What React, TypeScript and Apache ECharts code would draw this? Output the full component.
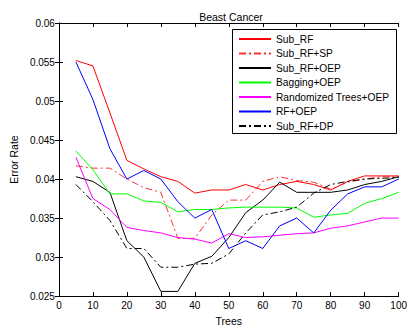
import React, { useEffect, useRef } from "react";
import * as echarts from "echarts";

const trees = [5, 10, 15, 20, 25, 30, 35, 40, 45, 50, 55, 60, 65, 70, 75, 80, 85, 90, 95, 100];
const subRF = [0.0552, 0.0545, 0.0485, 0.0424, 0.0413, 0.0403, 0.0397, 0.0382, 0.0386, 0.0386, 0.0393, 0.0386, 0.0393, 0.0397, 0.0393, 0.0386, 0.0397, 0.0404, 0.0404, 0.0404];
const subRFSP = [0.0417, 0.0414, 0.0414, 0.04, 0.0389, 0.0383, 0.0324, 0.0324, 0.0354, 0.0373, 0.0373, 0.0397, 0.0403, 0.0398, 0.0396, 0.0387, 0.0396, 0.04, 0.0403, 0.0403];
const subRFOEP = [0.0403, 0.0397, 0.0383, 0.0321, 0.03, 0.0256, 0.0256, 0.0292, 0.0301, 0.0325, 0.0357, 0.0373, 0.0396, 0.0383, 0.0383, 0.0383, 0.0386, 0.0393, 0.0397, 0.0403];
const baggingOEP = [0.0436, 0.0412, 0.0381, 0.0381, 0.0372, 0.037, 0.0358, 0.0361, 0.0361, 0.0363, 0.0364, 0.0364, 0.0364, 0.0363, 0.0351, 0.0354, 0.0356, 0.0369, 0.0375, 0.0383];
const randTreesOEP = [0.0428, 0.0375, 0.0361, 0.0338, 0.0334, 0.0331, 0.0325, 0.0323, 0.0318, 0.033, 0.0325, 0.0326, 0.0328, 0.033, 0.0331, 0.0337, 0.034, 0.0345, 0.035, 0.035];
const rfOEP = [0.055, 0.0502, 0.0439, 0.04, 0.0411, 0.04, 0.0371, 0.035, 0.0361, 0.0311, 0.0321, 0.0311, 0.034, 0.035, 0.0331, 0.036, 0.0381, 0.039, 0.039, 0.04];
const subRFDP = [0.0393, 0.0371, 0.0347, 0.0311, 0.0311, 0.0287, 0.0287, 0.0291, 0.0292, 0.0304, 0.0331, 0.0354, 0.0358, 0.0364, 0.0382, 0.0393, 0.0397, 0.04, 0.0401, 0.0402];

const seriesNames = ["Sub_RF", "Sub_RF+SP", "Sub_RF+OEP", "Bagging+OEP", "Randomized Trees+OEP", "RF+OEP", "Sub_RF+DP"];
const seriesData = [subRF, subRFSP, subRFOEP, baggingOEP, randTreesOEP, rfOEP, subRFDP];
const seriesColors = ["#ff0000", "#ff3030", "#000000", "#00ff00", "#ff00ff", "#0000ff", "#000000"];
const seriesDash: any[] = ["solid", [7, 3, 2, 3], "solid", "solid", "solid", "solid", [7, 3, 2, 3]];

const FONT = "Liberation Sans, Arial, Helvetica, sans-serif";

export default function App() {
  const ref = useRef<HTMLDivElement>(null);
  useEffect(() => {
    if (!ref.current) return;
    const chart = echarts.init(ref.current, undefined, { renderer: "svg" });
    const axisCommon = {
      axisLine: { show: true, lineStyle: { color: "#000", width: 1 } },
      axisTick: { show: true, inside: true, length: 4, lineStyle: { color: "#000" } },
      splitLine: { show: false },
    };
    chart.setOption({
      animation: false,
      backgroundColor: "#fff",
      textStyle: { fontFamily: FONT },
      title: {
        text: "Beast Cancer",
        left: 226,
        textAlign: "center",
        top: 6,
        textStyle: { fontSize: 10.5, fontWeight: "normal", color: "#000", fontFamily: FONT },
      },
      grid: { left: 52, right: 9, top: 23, bottom: 33 },
      graphic: [
        {
          type: "rect",
          left: 232,
          top: 29,
          z: 3,
          shape: { width: 164, height: 104 },
          style: { fill: "#fff", stroke: "#000", lineWidth: 1 },
        },
      ],
      xAxis: [
        {
          type: "value", min: 0, max: 100, interval: 10, position: "bottom",
          ...axisCommon,
          axisLabel: { margin: 4, fontSize: 10, color: "#000", fontFamily: FONT },
          name: "Trees", nameLocation: "middle", nameGap: 16,
          nameTextStyle: { fontSize: 10.5, color: "#000", fontFamily: FONT },
        },
        {
          type: "value", min: 0, max: 100, interval: 10, position: "top",
          ...axisCommon, axisLabel: { show: false },
        },
      ],
      yAxis: [
        {
          type: "value", min: 0.025, max: 0.06, interval: 0.005, position: "left",
          ...axisCommon,
          axisLabel: {
            margin: 4, fontSize: 10, color: "#000", fontFamily: FONT,
            formatter: (v: number) => String(+v.toFixed(3)),
          },
          name: "Error Rate", nameLocation: "middle", nameGap: 33, nameRotate: 90,
          nameTextStyle: { fontSize: 10.5, color: "#000", fontFamily: FONT },
        },
        {
          type: "value", min: 0.025, max: 0.06, interval: 0.005, position: "right",
          ...axisCommon, axisLabel: { show: false },
        },
      ],
      legend: {
        orient: "vertical",
        left: 232,
        top: 29,
        z: 5,
        itemWidth: 32,
        itemHeight: 10,
        itemGap: 4.5,
        padding: [5, 4, 5, 6],
        borderWidth: 0,
        itemStyle: { opacity: 0 },
        textStyle: { fontSize: 10.2, color: "#000", fontFamily: FONT },
        data: seriesNames.map((n) => ({ name: n })),
      },
      series: seriesNames.map((name, i) => ({
        name,
        type: "line",
        symbol: "none",
        xAxisIndex: 0,
        yAxisIndex: 0,
        data: trees.map((t, j) => [t, seriesData[i][j]]),
        lineStyle: { color: seriesColors[i], width: 1, type: seriesDash[i] },
        itemStyle: { color: seriesColors[i] },
      })),
    });
    return () => chart.dispose();
  }, []);
  return <div ref={ref} style={{ position: "fixed", left: 0, top: 0, width: 410, height: 331 }} />;
}
